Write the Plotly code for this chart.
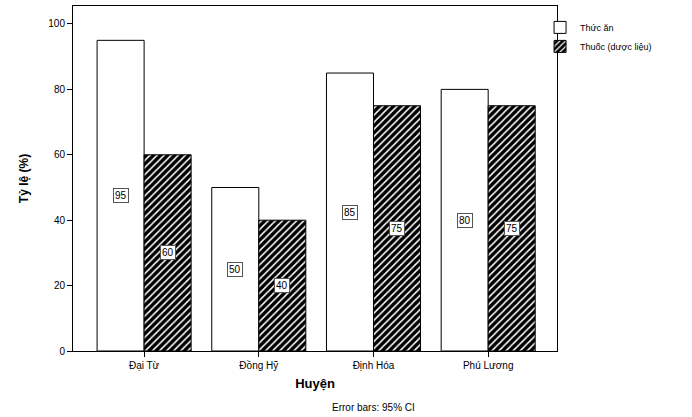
import plotly.graph_objects as go

categories = ["Đại Từ", "Đồng Hỷ", "Định Hóa", "Phú Lương"]
tick_labels = ["Đại Từ", "Đồng Hỹ", "Định Hóa", "Phú Lương"]
thuc_an = [95, 50, 85, 80]
thuoc = [60, 40, 75, 75]
series_names = ["Thức ăn", "Thuốc (dược liệu)"]

FONT = "Liberation Sans, Arial, sans-serif"
xs = list(range(len(categories)))

fig = go.Figure()
fig.add_trace(go.Bar(
    x=xs, y=thuc_an, name=series_names[0],
    marker=dict(color="white", line=dict(color="black", width=1)),
))
fig.add_trace(go.Bar(
    x=xs, y=thuoc, name=series_names[1],
    marker=dict(color="black", line=dict(color="black", width=1),
                pattern=dict(shape="/", fgcolor="white", bgcolor="black",
                             fgopacity=1, size=5, solidity=0.3)),
))

bw = 0.41
for i in xs:
    for off, vals in ((-bw / 2, thuc_an), (bw / 2, thuoc)):
        fig.add_annotation(
            x=i + off, y=vals[i] / 2, xref="x", yref="y",
            text=str(vals[i]), showarrow=False,
            font=dict(family=FONT, size=10, color="black"),
            bgcolor="white", bordercolor="#555555", borderwidth=1, borderpad=1,
        )

fig.add_annotation(
    x=0.62, y=-0.165, xref="paper", yref="paper",
    text="Error bars: 95% CI", showarrow=False,
    font=dict(family=FONT, size=10, color="black"),
    xanchor="center", yanchor="middle",
)

fig.update_layout(
    width=692, height=417,
    margin=dict(l=73, r=135, t=6, b=66, autoexpand=False),
    paper_bgcolor="white", plot_bgcolor="white",
    barmode="group", bargap=0.18, bargroupgap=0,
    font=dict(family=FONT, size=10, color="black"),
    showlegend=True,
    legend=dict(x=0.965, y=0.98, xanchor="left", yanchor="top",
                font=dict(family=FONT, size=9, color="black"),
                bgcolor="rgba(0,0,0,0)", tracegroupgap=0,
                itemwidth=30),
    xaxis=dict(
        tickmode="array", tickvals=xs, ticktext=tick_labels,
        range=[-0.62, 3.6], showline=True, linecolor="black", linewidth=1,
        mirror=True, ticks="outside", ticklen=5, tickcolor="black",
        showgrid=False, zeroline=False,
        title=dict(text="<b>Huyện</b>", font=dict(family=FONT, size=13), standoff=8),
        tickfont=dict(family=FONT, size=10),
    ),
    yaxis=dict(
        range=[0, 105.5], tickvals=[0, 20, 40, 60, 80, 100],
        showline=True, linecolor="black", linewidth=1, mirror=True,
        ticks="outside", ticklen=5, tickcolor="black",
        showgrid=False, zeroline=False,
        title=dict(text="<b>Tỷ lệ (%)</b>", font=dict(family=FONT, size=12), standoff=17),
        tickfont=dict(family=FONT, size=10),
    ),
)

fig.write_html("out.html", config={"displayModeBar": False},
               post_script="document.body.style.margin='0';document.body.style.overflow='hidden';")
